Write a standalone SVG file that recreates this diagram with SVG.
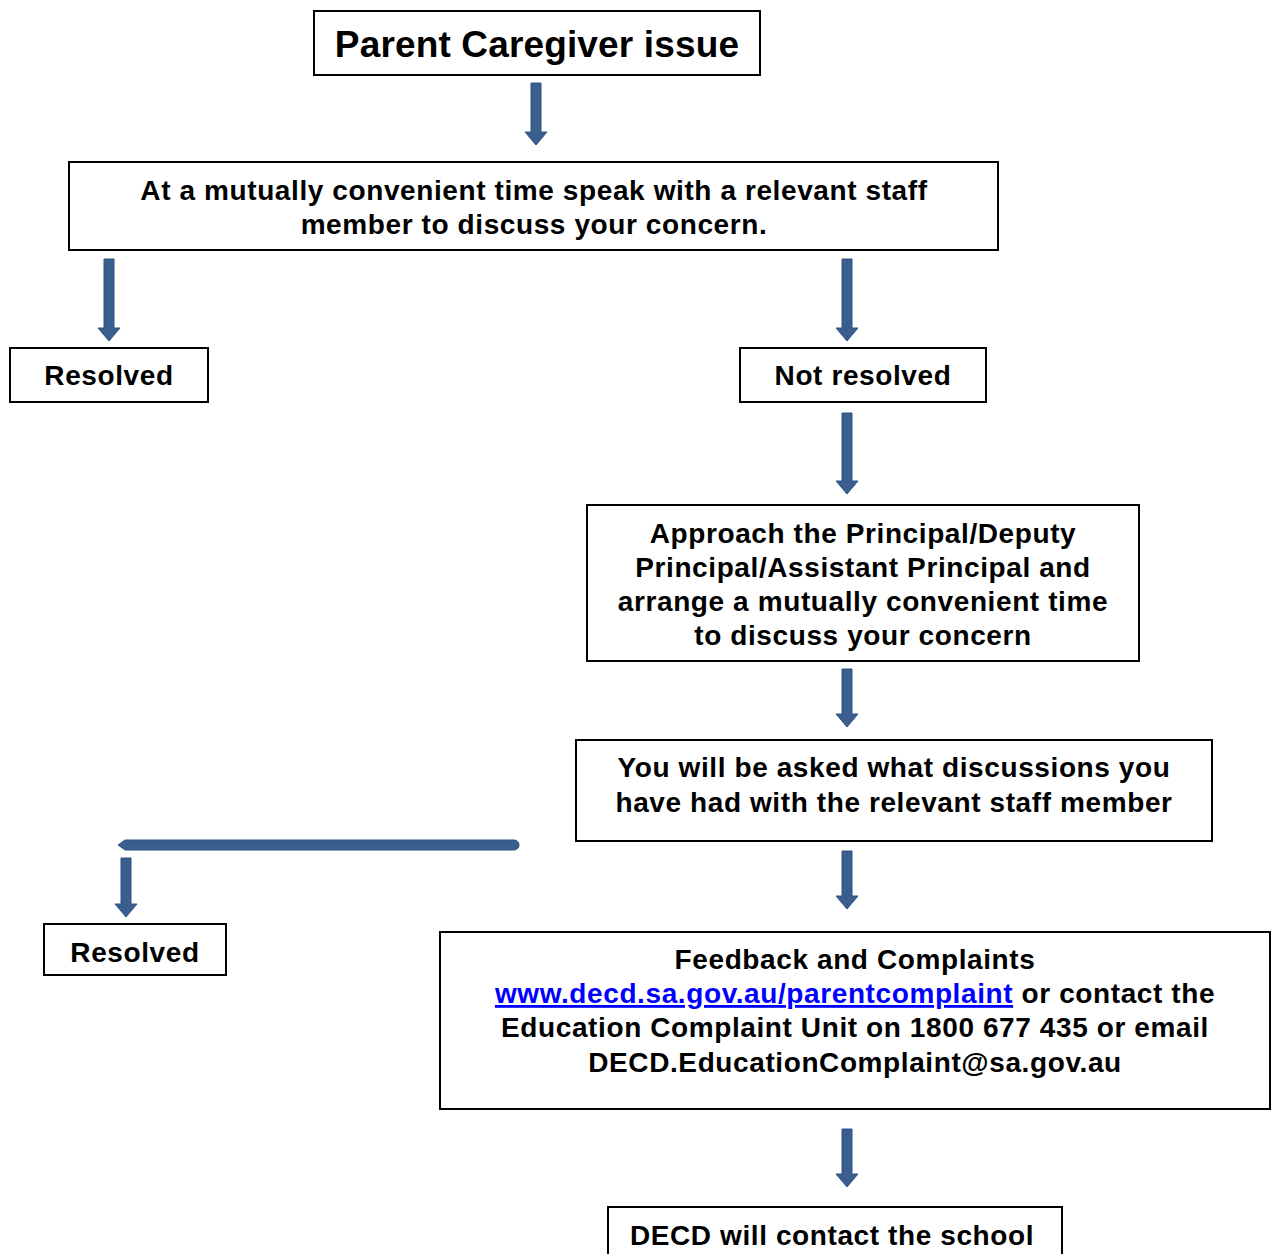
<svg xmlns="http://www.w3.org/2000/svg" width="1277" height="1254" viewBox="0 0 1277 1254">
<defs>
<style>
.box{fill:#fff;stroke:#000;stroke-width:2}
.t{font-family:"Liberation Sans",Arial,sans-serif;font-weight:bold;font-size:28px;letter-spacing:0.6px;fill:#000;text-anchor:middle}
.arr{fill:#3A5F8E;stroke:#2F5280;stroke-width:1}
.link{fill:#0000FF;text-decoration:underline}
</style>
</defs>
<rect width="1277" height="1254" fill="#fff"/>
<g id="connectors">
<path class="arr" d="M531,83 H541 V132 H547 L536,145 L525,132 H531 Z"/>
<path class="arr" d="M104,259 H114 V328 H120 L109,341 L98,328 H104 Z"/>
<path class="arr" d="M842,259 H852 V328 H858 L847,341 L836,328 H842 Z"/>
<path class="arr" d="M842,413 H852 V481 H858 L847,494 L836,481 H842 Z"/>
<path class="arr" d="M842,669 H852 V714 H858 L847,727 L836,714 H842 Z"/>
<path class="arr" d="M125,840 H514 A5,5 0 0 1 514,850 H125 L118,845 Z"/>
<path class="arr" d="M121,858 H131 V904 H137 L126,917 L115,904 H121 Z"/>
<path class="arr" d="M842,851 H852 V896 H858 L847,909 L836,896 H842 Z"/>
<path class="arr" d="M842,1129 H852 V1174 H858 L847,1187 L836,1174 H842 Z"/>
</g>
<g id="n1"><rect class="box" x="314" y="11" width="446" height="64"/><text class="t" x="537" y="57" style="font-size:37px;letter-spacing:0.15px">Parent Caregiver issue</text></g>
<g id="n2"><rect class="box" x="69" y="162" width="929" height="88"/><text class="t" x="534" y="200">At a mutually convenient time speak with a relevant staff</text><text class="t" x="534" y="234">member to discuss your concern.</text></g>
<g id="n3"><rect class="box" x="10" y="348" width="198" height="54"/><text class="t" x="109" y="385">Resolved</text></g>
<g id="n4"><rect class="box" x="740" y="348" width="246" height="54"/><text class="t" x="863" y="385">Not resolved</text></g>
<g id="n5"><rect class="box" x="587" y="505" width="552" height="156"/><text class="t" x="863" y="543">Approach the Principal/Deputy</text><text class="t" x="863" y="577">Principal/Assistant Principal and</text><text class="t" x="863" y="611">arrange a mutually convenient time</text><text class="t" x="863" y="645">to discuss your concern</text></g>
<g id="n6"><rect class="box" x="576" y="740" width="636" height="101"/><text class="t" x="894" y="777">You will be asked what discussions you</text><text class="t" x="894" y="812">have had with the relevant staff member</text></g>
<g id="n7"><rect class="box" x="44" y="924" width="182" height="51"/><text class="t" x="135" y="962">Resolved</text></g>
<g id="n8"><rect class="box" x="440" y="932" width="830" height="177"/><text class="t" x="855" y="969">Feedback and Complaints</text><text class="t" x="855" y="1003"><tspan class="link">www.decd.sa.gov.au/parentcomplaint</tspan> or contact the</text><text class="t" x="855" y="1037">Education Complaint Unit on 1800 677 435 or email</text><text class="t" x="855" y="1072">DECD.EducationComplaint@sa.gov.au</text></g>
<g id="n9"><rect class="box" x="608" y="1207" width="454" height="60"/><text class="t" x="832" y="1245">DECD will contact the school</text></g>
</svg>
